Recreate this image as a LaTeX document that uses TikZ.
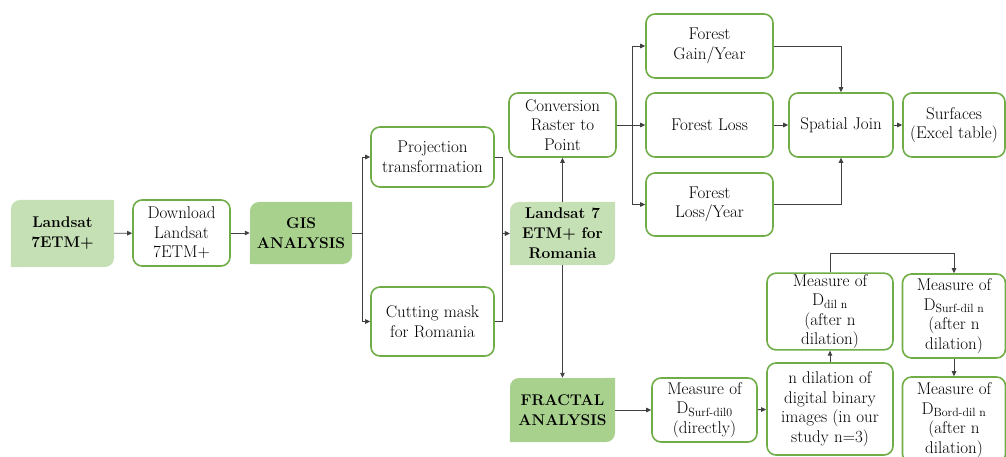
\documentclass[tikz,border=0pt]{standalone}
\usetikzlibrary{arrows.meta}
\definecolor{boxGreen}{HTML}{70AD47}
\definecolor{fillLight}{HTML}{C5E0B4}
\definecolor{fillDark}{HTML}{A9D18E}
\definecolor{lineGray}{HTML}{404040}

\begin{document}
\begin{tikzpicture}[x=1pt, y=-1pt,
	procbox/.style 2 args={draw=boxGreen, line width=1.6pt, rounded corners=9pt, align=center,
		inner sep=1pt, text=black, minimum width=#1pt, minimum height=#2pt,
		font=\fontsize{17}{19.5}\selectfont},
	datbox/.style n args={3}{fill=#1, rounded corners=9pt, align=center, inner sep=1pt,
		text=black, minimum width=#2pt, minimum height=#3pt,
		font=\fontsize{15.5}{20}\selectfont\bfseries,
		append after command={\pgfextra{\fill[#1] (\tikzlastnode.north east) rectangle ++(-10pt,-10pt)
			(\tikzlastnode.south west) rectangle ++(10pt,10pt);}}},
	arr/.style={draw=lineGray, line width=0.9pt, -{Triangle[length=5pt,width=4.5pt]}}]
	\useasboundingbox (0,0) rectangle (1006,457);

	% left part
	\node[datbox={fillLight}{103}{67}] (land) at (62.5,233.5) {Landsat\\7ETM+};
	\node[procbox={97}{66}]            (down) at (181.5,233)  {Download\\Landsat\\7ETM+};
	\node[datbox={fillDark}{102}{62}]  (gis)  at (301,233)    {GIS\\ANALYSIS};
	\node[procbox={123}{60}]           (proj) at (432.5,157)  {Projection\\transformation};
	\node[procbox={123}{69}]           (cut)  at (432.5,321.5) {Cutting mask\\for Romania};
	\node[datbox={fillLight}{105}{63}] (rom)  at (562.5,233.5) {Landsat 7\\ETM+ for\\Romania};

	% forest branch
	\node[procbox={107}{64}] (conv)  at (562.5,125) {Conversion\\Raster to\\Point};
	\node[procbox={127}{64}] (gain)  at (709.5,46)  {Forest\\Gain/Year};
	\node[procbox={127}{64}] (loss)  at (709.5,125) {Forest Loss};
	\node[procbox={127}{63}] (lossy) at (709.5,204.5) {Forest\\Loss/Year};
	\node[procbox={104}{64}] (join)  at (841,125)   {Spatial Join};
	\node[procbox={102}{64}] (surf)  at (954,125)   {Surfaces\\(Excel table)};

	% fractal branch
	\node[datbox={fillDark}{105}{64}] (frac) at (562.5,410) {FRACTAL\\ANALYSIS};
	\node[procbox={105}{64}] (dsurf0) at (704.5,410) {Measure of\\D\textsubscript{Surf-dil0}\\(directly)};
	\node[procbox={126}{92}] (ndil)   at (830,409)   {n dilation of\\digital binary\\images (in our\\study n=3)};
	\node[procbox={126}{75}] (ddil)   at (830,311.5) {Measure of\\D\textsubscript{dil n}\\(after n\\dilation)};
	\node[procbox={103}{84}] (dsurfn) at (954,316)   {Measure of\\D\textsubscript{Surf-dil n}\\(after n\\dilation)};
	\node[procbox={103}{86}] (dbord)  at (954,420)   {Measure of\\D\textsubscript{Bord-dil n}\\(after n\\dilation)};

	% connectors
	\draw[arr] (land) -- (down);
	\draw[arr] (down) -- (gis);
	\draw[arr] (gis.east) -- ++(10,0) |- (proj);
	\draw[arr] (gis.east) -- ++(10,0) |- (cut);
	\draw[arr] (proj.east) -- ++(8,0) |- (rom);
	\draw[arr] (cut.east) -- ++(8,0) |- (rom);
	\draw[arr] (rom) -- (conv);
	\draw[arr] (rom) -- (frac);
	\draw[arr] (conv.east) -- ++(16,0) |- (gain);
	\draw[arr] (conv) -- (loss);
	\draw[arr] (conv.east) -- ++(16,0) |- (lossy);
	\draw[arr] (gain) -| (join);
	\draw[arr] (lossy) -| (join);
	\draw[arr] (loss) -- (join);
	\draw[arr] (join) -- (surf);
	\draw[arr] (frac) -- (dsurf0);
	\draw[arr] (dsurf0) -- (ndil);
	\draw[arr] (ndil) -- (ddil);
	\draw[arr] (ddil.north) -- ++(0,-19) -| (dsurfn);
	\draw[arr] (dsurfn) -- (dbord);
\end{tikzpicture}
\end{document}
